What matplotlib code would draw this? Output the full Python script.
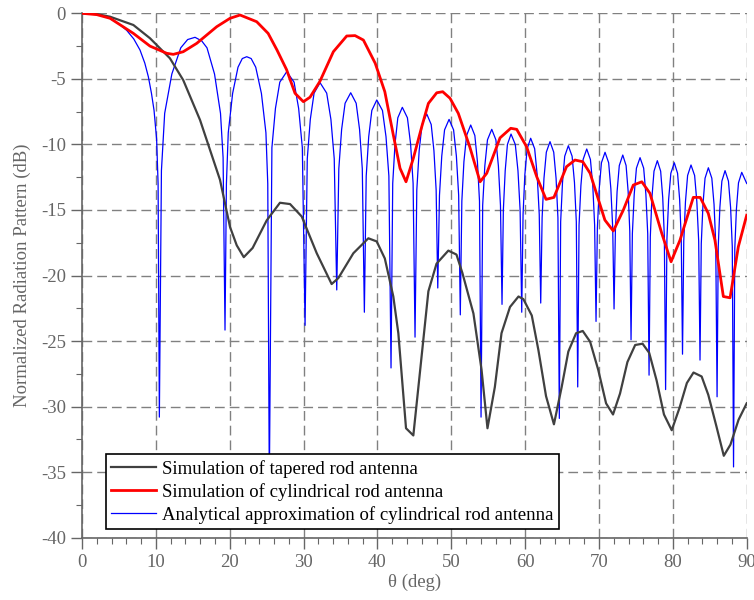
import matplotlib
matplotlib.use("Agg")
from matplotlib import pyplot as plt
from matplotlib.ticker import MultipleLocator

# simulated tapered rod antenna (deg, dB)
tapered_theta = [0, 2.0, 3.8, 6.95, 9.2, 11.9, 13.7, 15.98, 16.88, 18.68, 20.04, 20.95,
                 21.9, 23.1, 25.0, 26.8, 28.17, 29.75, 31.78, 33.8, 34.7, 36.74, 38.77,
                 39.9, 41.0, 42.15, 42.83, 43.87, 44.86, 45.9, 46.9, 48.0, 49.6, 50.7,
                 51.5, 53.0, 54.1, 54.9, 55.9, 56.8, 57.95, 59.1, 59.76, 60.9, 61.8,
                 62.83, 63.9, 64.95, 65.85, 66.9, 67.8, 68.8, 69.9, 70.96, 71.9, 72.85,
                 73.85, 74.9, 75.9, 76.8, 77.8, 78.8, 79.85, 80.9, 81.9, 82.8, 83.9,
                 84.8, 85.9, 86.9, 87.8, 88.9, 90.0]
tapered_db = [0, -0.06, -0.26, -0.89, -1.9, -3.43, -5.09, -8.14, -9.66, -12.7, -16.3, -17.7,
              -18.6, -17.9, -15.8, -14.45, -14.55, -15.5, -18.3, -20.65, -20.2, -18.3, -17.16,
              -17.4, -18.7, -21.6, -24.4, -31.65, -32.2, -26.6, -21.2, -19.1, -18.1, -18.4,
              -19.8, -22.9, -27.2, -31.65, -28.5, -24.4, -22.4, -21.6, -21.8, -23.05, -25.7,
              -29.2, -31.35, -28.5, -25.8, -24.4, -24.23, -25.05, -27.2, -29.75, -30.6, -29.0,
              -26.6, -25.3, -25.2, -25.9, -28.0, -30.6, -31.8, -30.1, -28.2, -27.4, -27.7,
              -29.1, -31.5, -33.75, -32.9, -31.0, -29.75]

# simulated cylindrical rod antenna
cyl_theta = [0, 2.0, 3.8, 6.95, 9.2, 11.47, 12.36, 13.7, 15.53, 18.24, 20.04, 21.4,
             23.65, 25.2, 26.4, 27.7, 28.84, 29.97, 30.87, 32.2, 34.03, 35.84, 36.97,
             38.1, 39.7, 41.0, 42.15, 43.06, 43.87, 44.86, 46.0, 46.9, 48.03, 48.84,
             49.83, 50.95, 52.5, 53.9, 54.8, 56.6, 58.05, 58.86, 60.2, 61.57, 62.83,
             63.9, 65.6, 66.75, 67.8, 68.8, 70.8, 71.94, 73.3, 74.65, 75.8, 76.9,
             78.5, 79.76, 80.97, 82.77, 83.7, 84.8, 85.7, 86.84, 87.75, 88.87, 90.0]
cyl_db = [0, -0.1, -0.38, -1.53, -2.5, -3.05, -3.13, -2.93, -2.29, -1.02, -0.38, -0.13,
          -0.64, -1.53, -2.8, -4.3, -6.1, -6.74, -6.4, -5.2, -2.93, -1.73, -1.7,
          -2.04, -3.81, -5.98, -9.28, -11.82, -12.85, -11.06, -8.65, -6.87, -6.06, -5.98,
          -6.48, -7.63, -10.18, -12.85, -12.2, -9.5, -8.77, -8.85, -10.18, -12.46, -14.19,
          -14.04, -11.7, -11.19, -11.32, -12.2, -15.77, -16.6, -15.0, -13.1, -12.85, -13.73,
          -16.78, -18.95, -17.3, -14.04, -14.04, -15.26, -17.3, -21.6, -21.7, -17.8, -15.4]

# analytical approximation, one line per lobe (null ... peak ...)
approx_theta = [
    0, 1.2, 2.4, 3.8, 5.0, 6.05, 7.0, 7.85, 8.5, 8.98, 9.4, 9.75, 10.1, 10.3,
    10.47, 10.75, 11.19, 12.16, 13.37, 14.3, 15.30, 16.2, 16.92, 17.94, 18.75, 19.1,
    19.36, 19.55, 19.80, 20.39, 21.12, 21.7, 22.30, 22.9, 23.52, 24.29, 24.90, 25.15,
    25.36, 25.71, 26.19, 26.78, 27.72, 28.71, 29.33, 29.83,
    30.20, 30.50, 30.91, 31.42, 32.23, 33.13, 33.70, 34.15,
    34.49, 34.77, 35.15, 35.62, 36.38, 37.12, 37.58, 37.95,
    38.23, 38.48, 38.82, 39.24, 39.91, 40.68, 41.16, 41.55,
    41.84, 42.07, 42.38, 42.76, 43.37, 44.06, 44.49, 44.83,
    45.09, 45.33, 45.65, 46.04, 46.68, 47.28, 47.65, 47.95,
    48.17, 48.40, 48.71, 49.09, 49.70, 50.31, 50.69, 51.00,
    51.22, 51.43, 51.71, 52.07, 52.63, 53.19, 53.54, 53.82,
    54.03, 54.25, 54.54, 54.90, 55.48, 56.04, 56.38, 56.66,
    56.87, 57.05, 57.30, 57.60, 58.09, 58.67, 59.03, 59.32,
    59.54, 59.72, 59.96, 60.27, 60.75, 61.29, 61.63, 61.91,
    62.11, 62.30, 62.55, 62.87, 63.37, 63.87, 64.19, 64.44,
    64.63, 64.81, 65.06, 65.36, 65.85, 66.36, 66.68, 66.93,
    67.12, 67.30, 67.55, 67.85, 68.34, 68.84, 69.16, 69.41,
    69.60, 69.78, 70.03, 70.33, 70.82, 71.31, 71.61, 71.86,
    72.04, 72.22, 72.45, 72.75, 73.22, 73.67, 73.95, 74.17,
    74.34, 74.52, 74.77, 75.07, 75.56, 76.05, 76.35, 76.60,
    76.78, 76.95, 77.17, 77.45, 77.90, 78.35, 78.63, 78.85,
    79.02, 79.20, 79.43, 79.73, 80.20, 80.64, 80.92, 81.14,
    81.31, 81.48, 81.71, 82.00, 82.46, 82.95, 83.25, 83.50,
    83.68, 83.85, 84.08, 84.36, 84.81, 85.28, 85.58, 85.81,
    85.99, 86.15, 86.37, 86.64, 87.07, 87.53, 87.82, 88.05,
    88.22, 88.39, 88.61, 88.89, 89.33, 90.0,
]
approx_db = [
    0, -0.03, -0.13, -0.4, -0.8, -1.3, -1.95, -2.8, -3.8, -4.84, -6.1, -7.4, -9.6, -13.0,
    -30.8, -12.0, -7.63, -4.63, -2.63, -2.0, -1.83, -2.1, -2.63, -4.63, -7.63, -11.0,
    -24.16, -13.0, -9.11, -6.11, -4.11, -3.45, -3.31, -3.45, -4.11, -6.11, -9.11, -13.0,
    -36.0, -10.25, -7.25, -5.25, -4.45, -5.25, -7.25, -10.25,
    -23.8, -11.09, -8.09, -6.09, -5.29, -6.09, -8.09, -11.09,
    -21.1, -11.86, -8.86, -6.86, -6.06, -6.86, -8.86, -11.86,
    -22.8, -12.41, -9.41, -7.41, -6.61, -7.41, -9.41, -12.41,
    -27.05, -12.97, -9.97, -7.97, -7.17, -7.97, -9.97, -12.97,
    -24.7, -13.48, -10.48, -8.48, -7.68, -8.48, -10.48, -13.48,
    -20.95, -13.89, -10.89, -8.89, -8.09, -8.89, -10.89, -13.89,
    -23.0, -14.32, -11.32, -9.32, -8.52, -9.32, -11.32, -14.32,
    -30.8, -14.65, -11.65, -9.65, -8.85, -9.65, -11.65, -14.65,
    -22.2, -15.01, -12.01, -10.01, -9.21, -10.01, -12.01, -15.01,
    -22.8, -15.33, -12.33, -10.33, -9.53, -10.33, -12.33, -15.33,
    -22.1, -15.59, -12.59, -10.59, -9.79, -10.59, -12.59, -15.59,
    -30.9, -15.9, -12.9, -10.9, -10.1, -10.9, -12.9, -15.9,
    -28.5, -16.15, -13.15, -11.15, -10.35, -11.15, -13.15, -16.15,
    -23.5, -16.4, -13.4, -11.4, -10.6, -11.4, -13.4, -16.4,
    -22.55, -16.61, -13.61, -11.61, -10.81, -11.61, -13.61, -16.61,
    -24.9, -16.81, -13.81, -11.81, -11.01, -11.81, -13.81, -16.81,
    -27.6, -17.04, -14.04, -12.04, -11.24, -12.04, -14.04, -17.04,
    -28.7, -17.2, -14.2, -12.2, -11.4, -12.2, -14.2, -17.2,
    -26.0, -17.37, -14.37, -12.37, -11.57, -12.37, -14.37, -17.37,
    -26.45, -17.58, -14.58, -12.58, -11.78, -12.58, -14.58, -17.58,
    -29.25, -17.8, -14.8, -12.8, -12.0, -12.8, -14.8, -17.8,
    -34.6, -17.93, -14.93, -12.93, -12.13, -12.97,
]

labels = ["Simulation of tapered rod antenna",
          "Simulation of cylindrical rod antenna",
          "Analytical approximation of cylindrical rod antenna"]

plt.rcParams["font.family"] = ["Liberation Serif", "DejaVu Serif"]
plt.rcParams["axes.unicode_minus"] = False
gray = "#666666"

fig = plt.figure(figsize=(7.54, 6.0), dpi=100)
ax = fig.add_axes([0.1088, 0.1038, 0.8815, 0.874])

l3, = ax.plot(approx_theta, approx_db, color="#0000ff", lw=0.9, zorder=2)
l1, = ax.plot(tapered_theta, tapered_db, color="#404040", lw=1.6, zorder=3)
l2, = ax.plot(cyl_theta, cyl_db, color="#ff0000", lw=2.0, zorder=4)

ax.set_xlim(0, 90)
ax.set_ylim(-40, 0)
ax.xaxis.set_major_locator(MultipleLocator(10))
ax.xaxis.set_minor_locator(MultipleLocator(2))
ax.yaxis.set_major_locator(MultipleLocator(5))
ax.yaxis.set_minor_locator(MultipleLocator(2.5))

ax.grid(True, which="major", color="#808080", lw=1.0, linestyle=(0, (7, 3.6)))
ax.set_axisbelow(True)
for s in ["top", "right"]:
    ax.spines[s].set_visible(False)
for s in ["left", "bottom"]:
    ax.spines[s].set_color(gray)
    ax.spines[s].set_linewidth(1.2)

ax.tick_params(which="major", direction="out", length=8, width=1.0, color=gray,
               labelcolor=gray, labelsize=13.5)
ax.tick_params(which="minor", direction="out", length=4, width=0.8, color=gray)

ax.set_xlabel("θ (deg)", color=gray, fontsize=13.5, labelpad=2)
ax.set_ylabel("Normalized Radiation Pattern (dB)", color=gray, fontsize=13.5, labelpad=7)

leg = ax.legend([l1, l2, l3], labels, loc="lower left", bbox_to_anchor=(0.0357, 0.016),
                fontsize=13.5, frameon=True, fancybox=False, framealpha=1.0,
                edgecolor="black", handlelength=2.4, handletextpad=0.3,
                labelspacing=0.27, borderpad=0.3, borderaxespad=0.0)
leg.get_frame().set_linewidth(1.2)
leg.set_zorder(10)

fig.savefig("out.png", dpi=100)
